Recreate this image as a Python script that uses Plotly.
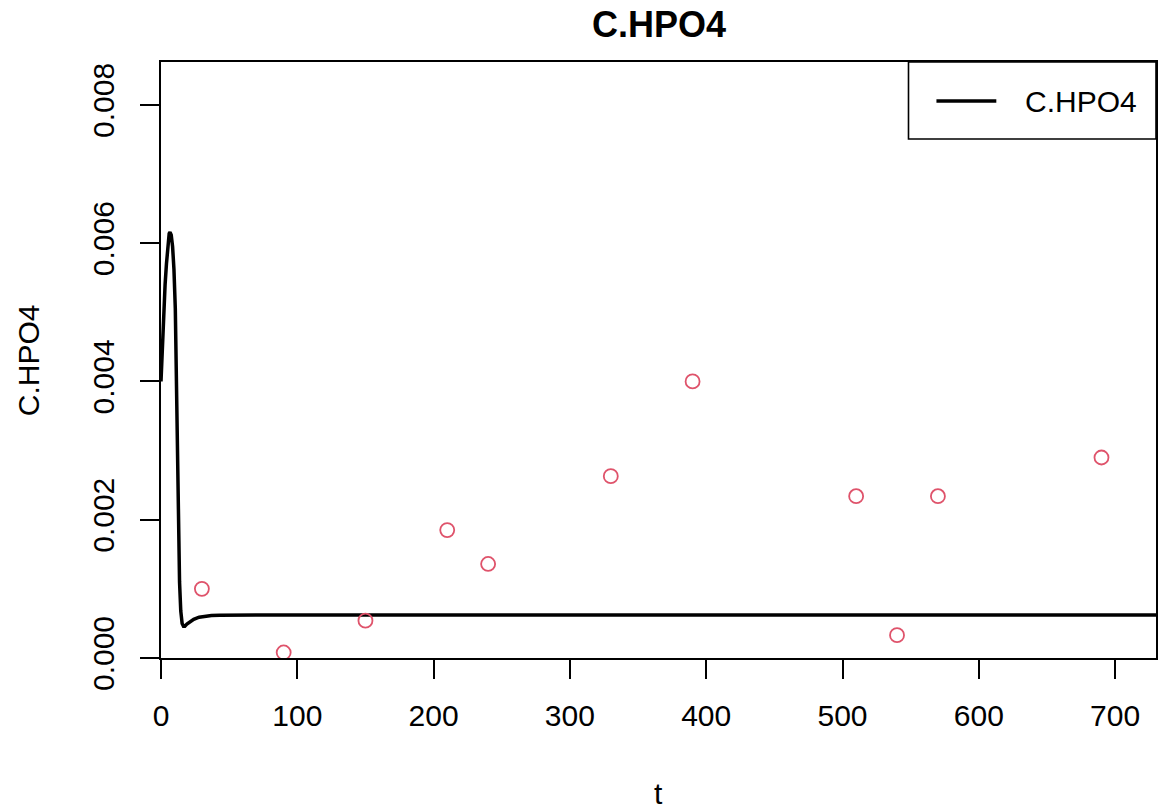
import plotly.graph_objects as go

# ---- data ----
curve_t = [0, 1, 2, 3, 4, 5, 6, 6.6, 7.5, 8.5, 9.5, 10.5, 11.3, 12.0, 12.8, 13.6,
           14.5, 15.5, 16.5, 17.5, 19, 21, 24, 28, 32, 37, 43, 50, 60, 80, 120,
           200, 400, 730]
curve_y = [0.00400, 0.00455, 0.00505, 0.00540, 0.00570, 0.00600, 0.00614, 0.00616,
           0.00612, 0.00595, 0.00562, 0.00505, 0.00410, 0.00300, 0.00190, 0.00110,
           0.00068, 0.00050, 0.00046, 0.00046, 0.00049, 0.00052, 0.00056, 0.00059,
           0.000605, 0.000615, 0.00062, 0.000622, 0.000623, 0.000623, 0.000623,
           0.000623, 0.000623, 0.000623]

obs_t = [30, 90, 150, 210, 240, 330, 390, 510, 540, 570, 690]
obs_y = [0.00100, 0.00008, 0.00054, 0.00185, 0.00136, 0.00263, 0.00400,
         0.00234, 0.00033, 0.00234, 0.00290]

x_ticks = [0, 100, 200, 300, 400, 500, 600, 700]
y_ticks = [0.000, 0.002, 0.004, 0.006, 0.008]
y_ticklabels = ["0.000", "0.002", "0.004", "0.006", "0.008"]

title = "C.HPO4"
series_name = "C.HPO4"
x_label = "t"
y_label = "C.HPO4"

FONT = "Liberation Sans, Arial, Helvetica, sans-serif"

fig = go.Figure()
fig.add_trace(go.Scatter(x=curve_t, y=curve_y, mode="lines", name=series_name,
                         line=dict(color="black", width=3.5), showlegend=False))
fig.add_trace(go.Scatter(x=obs_t, y=obs_y, mode="markers", name="observed",
                         marker=dict(symbol="circle-open", size=14, color="#DF536B",
                                     line=dict(width=1.8, color="#DF536B")),
                         showlegend=False))

axis_common = dict(showline=True, mirror=True, linecolor="black", linewidth=1.6,
                   ticks="outside", ticklen=19, tickwidth=1.6, tickcolor="black",
                   showgrid=False, zeroline=False,
                   tickfont=dict(family=FONT, size=30, color="black"))

fig.update_xaxes(range=[0, 730], tickvals=x_ticks, ticklabelstandoff=11, **axis_common)
fig.update_yaxes(range=[0, 0.00862], tickvals=y_ticks, ticktext=y_ticklabels,
                 tickangle=-90, ticklabelstandoff=14, **axis_common)

# manual legend (R-style box)
lx0, lx1 = (910 - 161) / 997, 1.0
ly1, ly0 = 1.0, (658 - 139) / 596
fig.add_shape(type="rect", xref="paper", yref="paper", x0=lx0, x1=lx1, y0=ly0, y1=ly1,
              line=dict(color="black", width=1.6), fillcolor="white", layer="above")
ly_mid = (658 - 101) / 596
fig.add_shape(type="line", xref="paper", yref="paper",
              x0=(938 - 161) / 997, x1=(998 - 161) / 997, y0=ly_mid, y1=ly_mid,
              line=dict(color="black", width=3.5), layer="above")

fig.update_layout(
    width=1159, height=810,
    margin=dict(l=161, r=1, t=62, b=152),
    paper_bgcolor="white", plot_bgcolor="white",
    showlegend=False,
    annotations=[
        dict(text=series_name, xref="paper", yref="paper", x=(1025 - 161) / 997, y=ly_mid,
             xanchor="left", yanchor="middle", showarrow=False,
             font=dict(family=FONT, size=30, color="black")),
        dict(text="<b>" + title + "</b>", xref="paper", yref="paper", x=0.5,
             y=(658 - 25) / 596, xanchor="center", yanchor="middle", showarrow=False,
             font=dict(family=FONT, size=36, color="black")),
        dict(text=x_label, xref="paper", yref="paper", x=0.5, y=(658 - 793) / 596,
             xanchor="center", yanchor="middle", showarrow=False,
             font=dict(family=FONT, size=30, color="black")),
        dict(text=y_label, xref="paper", yref="paper", x=(28 - 161) / 997, y=0.5,
             xanchor="center", yanchor="middle", showarrow=False, textangle=-90,
             font=dict(family=FONT, size=30, color="black")),
    ],
)

fig.write_html("out.html")
